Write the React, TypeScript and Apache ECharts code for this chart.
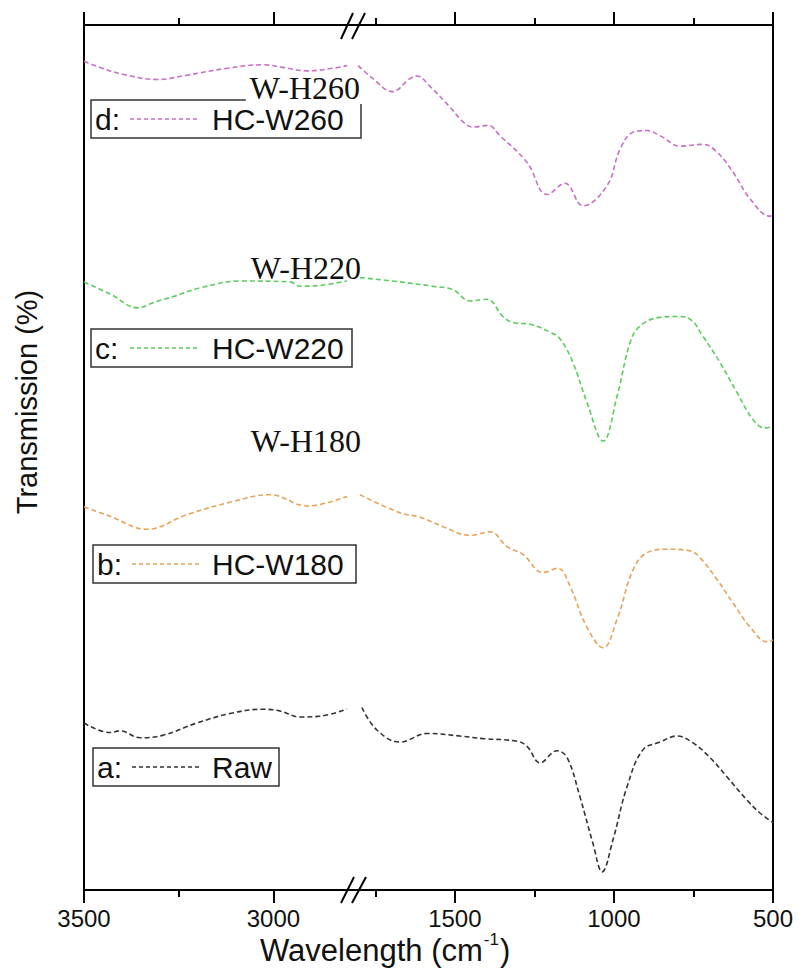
import React, { useEffect, useRef } from 'react';
import * as echarts from 'echarts';

const SANS = '"Liberation Sans", Arial, sans-serif';
const SERIF = '"Liberation Serif", "Times New Roman", serif';

// Broken wavenumber axis: left part and right part (cm-1)
const leftRange = [2790, 3500];
const rightRange = [500, 1820];
const leftMajorTicks = [3500, 3000];
const leftMinorTicks = [3250];
const rightMajorTicks = [1500, 1000, 500];
const rightMinorTicks = [1750, 1250, 750];

// a: Raw  [wavenumber, transmission (offset, a.u.)]
const rawLeft = [[3500, 19.3], [3431, 18.2], [3405, 18.4], [3352, 17.6], [3291, 17.9], [3202, 19.3], [3115, 20.4], [3027, 20.9], [2983, 20.7], [2930, 20.0], [2877, 20.1], [2806, 20.9]];
const rawRight = [[1792, 21.1], [1745, 18.5], [1672, 17.1], [1587, 18.1], [1484, 17.8], [1411, 17.5], [1305, 17.2], [1273, 16.6], [1232, 14.7], [1179, 16.1], [1147, 15.3], [1107, 10.8], [1066, 5.4], [1037, 2.1], [1003, 5.8], [959, 11.9], [909, 16.2], [855, 17.1], [802, 17.8], [751, 17.0], [698, 15.3], [645, 13.1], [582, 10.4], [541, 8.9], [500, 7.8]];

// b: HC-W180
const w180Left = [[3500, 44.3], [3431, 43.2], [3334, 41.7], [3228, 43.4], [3107, 44.9], [3009, 45.7], [2911, 44.4], [2806, 45.5]];
const w180Right = [[1798, 45.7], [1672, 43.6], [1609, 43.1], [1537, 42.0], [1452, 41.0], [1389, 41.4], [1336, 39.7], [1286, 38.8], [1223, 36.7], [1176, 37.2], [1138, 35.1], [1085, 30.4], [1034, 28.0], [990, 31.3], [940, 37.0], [896, 39.0], [833, 39.4], [761, 39.2], [729, 38.4], [676, 35.9], [626, 33.2], [572, 30.4], [519, 28.7], [500, 28.9]];

// c: HC-W220
const w220Left = [[3500, 70.3], [3431, 68.9], [3357, 67.3], [3318, 67.9], [3265, 68.6], [3194, 69.6], [3088, 70.4], [2956, 70.3], [2930, 69.8], [2877, 69.9], [2806, 70.4]];
const w220Right = [[1798, 70.8], [1672, 70.3], [1569, 69.8], [1506, 69.4], [1452, 68.1], [1399, 68.3], [1349, 66.3], [1317, 65.6], [1264, 65.4], [1201, 64.5], [1169, 63.7], [1129, 61.0], [1085, 56.4], [1034, 51.9], [990, 57.1], [949, 63.3], [918, 65.2], [855, 66.2], [802, 66.3], [761, 66.0], [720, 64.0], [667, 61.0], [613, 57.5], [563, 54.4], [525, 53.4], [500, 53.6]];

// d: HC-W260
const w260Left = [[3500, 95.8], [3458, 95.1], [3397, 94.3], [3307, 93.7], [3228, 94.2], [3122, 95.0], [3027, 95.4], [2975, 95.1], [2911, 94.7], [2843, 95.0], [2806, 95.3]];
const w260Right = [[1804, 95.3], [1757, 93.8], [1697, 92.3], [1641, 93.8], [1619, 94.1], [1578, 92.9], [1515, 90.5], [1474, 88.8], [1443, 88.2], [1396, 88.4], [1358, 87.2], [1273, 84.1], [1210, 80.4], [1154, 81.7], [1097, 79.1], [1022, 81.4], [981, 85.6], [940, 87.6], [896, 87.8], [855, 87.2], [792, 86.0], [720, 86.2], [676, 85.3], [626, 83.0], [572, 79.9], [509, 77.9], [500, 78.0]];

const C_A = '#333333';
const C_B = '#e8a35a';
const C_C = '#5ccc5c';
const C_D = '#c76fc7';

function makeX(gridIndex: number, range: number[], position: string, ticks: number[], len: number, showLabels: boolean, showLine: boolean) {
  return {
    gridIndex,
    type: 'value',
    min: range[0],
    max: range[1],
    inverse: true,
    position,
    axisLine: { show: showLine, onZero: false, lineStyle: { color: '#000', width: 2 } },
    axisTick: { show: true, length: len, customValues: ticks, lineStyle: { color: '#000', width: 2 } },
    axisLabel: showLabels
      ? {
          show: true,
          customValues: ticks,
          formatter: (v: number) => String(v),
          fontSize: 24,
          lineHeight: 22,
          color: '#111',
          fontFamily: SANS,
          margin: 17,
        }
      : { show: false },
    splitLine: { show: false },
    minorTick: { show: false },
  };
}

function makeY(gridIndex: number, position: string) {
  return {
    gridIndex,
    type: 'value',
    min: 0,
    max: 100,
    position,
    axisLine: { show: true, onZero: false, lineStyle: { color: '#000', width: 2 } },
    axisTick: { show: false },
    axisLabel: { show: false },
    splitLine: { show: false },
  };
}

function seg(name: string, data: number[][], xi: number, yi: number, color: string) {
  return {
    name,
    type: 'line',
    xAxisIndex: xi,
    yAxisIndex: yi,
    data,
    smooth: 0.4,
    showSymbol: false,
    symbol: 'none',
    silent: true,
    lineStyle: { color, width: 1.6, type: [5, 3] },
  };
}

export default function App() {
  const ref = useRef<HTMLDivElement>(null);
  useEffect(() => {
    if (!ref.current) return;
    const chart = echarts.init(ref.current, undefined, { renderer: 'svg' });

    const legendRows = [
      { tag: 'd:', name: 'HC-W260', color: C_D, top: 100, left: 91, w: 270 },
      { tag: 'c:', name: 'HC-W220', color: C_C, top: 329, left: 91, w: 261 },
      { tag: 'b:', name: 'HC-W180', color: C_B, top: 545, left: 93, w: 263 },
      { tag: 'a:', name: 'Raw', color: C_A, top: 748, left: 93, w: 186 },
    ];
    const legendGraphics: any[] = [];
    legendRows.forEach((r) => {
      const cy = r.top + 19;
      legendGraphics.push(
        { type: 'rect', z: 10, shape: { x: r.left, y: r.top, width: r.w, height: 38 }, style: { fill: '#fff', stroke: '#333', lineWidth: 1.5 } },
        { type: 'text', z: 11, x: r.left + 4, y: cy, style: { text: r.tag, fontSize: 30, fontFamily: SANS, fill: '#111', verticalAlign: 'middle', align: 'left' } },
        { type: 'line', z: 11, shape: { x1: r.left + 39, y1: cy, x2: r.left + 107, y2: cy }, style: { stroke: r.color, lineWidth: 1.5, lineDash: [4, 3] } },
        { type: 'text', z: 11, x: 212, y: cy, style: { text: r.name, fontSize: 30, fontFamily: SANS, fill: '#111', verticalAlign: 'middle', align: 'left' } },
      );
    });

    const breakLine = (x1: number, y1: number, x2: number, y2: number) => ({
      type: 'line', z: 12, shape: { x1, y1, x2, y2 }, style: { stroke: '#000', lineWidth: 2 },
    });

    const option: any = {
      animation: false,
      backgroundColor: '#fff',
      grid: [
        { left: 84, top: 25, width: 269, height: 865 },
        { left: 353, top: 25, width: 420, height: 865 },
      ],
      xAxis: [
        makeX(0, leftRange, 'bottom', leftMajorTicks, 13, true, true),
        makeX(0, leftRange, 'bottom', leftMinorTicks, 7, false, false),
        makeX(0, leftRange, 'top', leftMajorTicks, 13, false, true),
        makeX(0, leftRange, 'top', leftMinorTicks, 7, false, false),
        makeX(1, rightRange, 'bottom', rightMajorTicks, 13, true, true),
        makeX(1, rightRange, 'bottom', rightMinorTicks, 7, false, false),
        makeX(1, rightRange, 'top', rightMajorTicks, 13, false, true),
        makeX(1, rightRange, 'top', rightMinorTicks, 7, false, false),
      ],
      yAxis: [makeY(0, 'left'), makeY(1, 'right')],
      series: [
        seg('Raw', rawLeft, 0, 0, C_A),
        seg('Raw', rawRight, 4, 1, C_A),
        seg('HC-W180', w180Left, 0, 0, C_B),
        seg('HC-W180', w180Right, 4, 1, C_B),
        seg('HC-W220', w220Left, 0, 0, C_C),
        seg('HC-W220', w220Right, 4, 1, C_C),
        seg('HC-W260', w260Left, 0, 0, C_D),
        seg('HC-W260', w260Right, 4, 1, C_D),
      ],
      graphic: [
        // axis break marks
        breakLine(341, 39, 353, 13),
        breakLine(352, 39, 365, 13),
        breakLine(341, 903, 354, 877),
        breakLine(352, 903, 366, 877),
        ...legendGraphics,
        // sample annotations
        { type: 'text', z: 20, x: 362, y: 88, style: { text: 'W-H260', fontSize: 32, fontFamily: SERIF, fill: '#111', align: 'right', verticalAlign: 'middle', backgroundColor: '#fff', padding: [0, 2, 0, 4] } },
        { type: 'text', z: 20, x: 361, y: 268, style: { text: 'W-H220', fontSize: 32, fontFamily: SERIF, fill: '#111', align: 'right', verticalAlign: 'middle' } },
        { type: 'text', z: 20, x: 361, y: 441, style: { text: 'W-H180', fontSize: 32, fontFamily: SERIF, fill: '#111', align: 'right', verticalAlign: 'middle' } },
        // axis titles
        { type: 'text', z: 20, x: 27, y: 402, rotation: Math.PI / 2, style: { text: 'Transmission (%)', fontSize: 29, fontFamily: SANS, fill: '#111', align: 'center', verticalAlign: 'middle' } },
        {
          type: 'text', z: 20, x: 260, y: 931,
          style: {
            text: '{a|Wavelength (cm}{s|-1}{a|)}',
            fontFamily: SANS,
            fill: '#111',
            rich: {
              a: { fontSize: 31, fontFamily: SANS, fill: '#111', lineHeight: 38 },
              s: { fontSize: 17, fontFamily: SANS, fill: '#111', verticalAlign: 'top', lineHeight: 12, padding: [0, 1, 0, 1] },
            },
          },
        },
      ],
    };
    chart.setOption(option);
    return () => chart.dispose();
  }, []);
  return <div ref={ref} style={{ position: 'absolute', left: 0, top: 0, width: 799, height: 968 }} />;
}
